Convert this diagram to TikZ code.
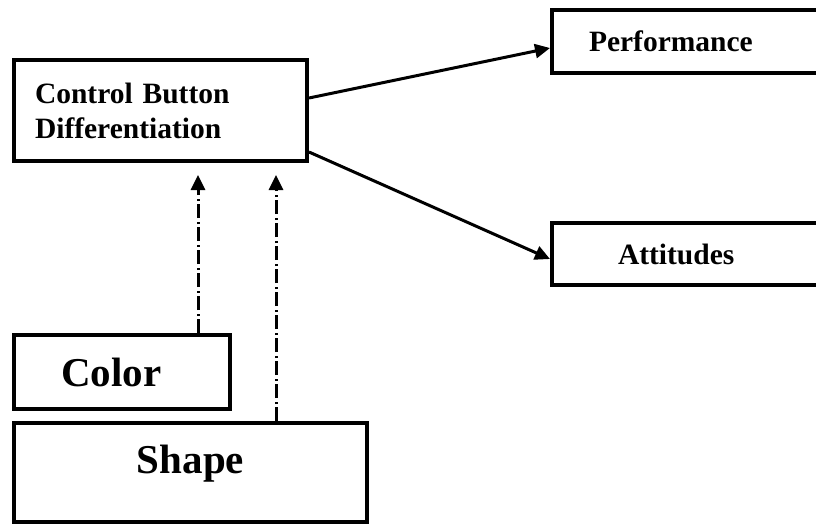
\documentclass[tikz,border=0pt]{standalone}
\usepackage{fontspec}
\setmainfont{Liberation Serif}
\usetikzlibrary{arrows.meta}
\begin{document}
\begin{tikzpicture}[x=1pt,y=-1pt,
	box/.style={draw,line width=4pt,rectangle,font=\bfseries\fontsize{29.5}{35}\selectfont},
	bigbox/.style={box,font=\bfseries\fontsize{41}{48}\selectfont},
	lead/.style={line width=3pt,-{Triangle[length=15pt,width=14pt]}},
	dep/.style={line width=3pt,dash pattern=on 14pt off 3pt on 2pt off 4pt,-{Triangle[length=15pt,width=14pt]},shorten >=12pt}]
	
	\clip (0,0) rectangle (816,525);
	\useasboundingbox (0,0) rectangle (816,525);
	
	\node[box,minimum width=293.5pt,minimum height=101pt,inner xsep=21.5pt,text width=250.5pt,align=left] (cbd) at (160.25,110.5) {Control Button\\Differentiation};
	\node[box,minimum width=278pt,minimum height=63pt,inner xsep=37pt,text width=204pt,align=left] (perf) at (691,41.5) {Performance};
	\node[box,minimum width=278pt,minimum height=62pt,inner xsep=66pt,text width=146pt,align=left] (att) at (691,254) {Attitudes};
	\node[bigbox,minimum width=216pt,minimum height=74pt,inner xsep=47pt,text width=122pt,align=left] (color) at (122,372) {Color};
	\node[bigbox,minimum width=353pt,inner ysep=0pt,text height=50pt,text depth=49pt] (shape) at (190.5,472.5) {Shape};
	
	\draw[lead] ([yshift=12.5pt]cbd.east) -- ([yshift=-6.5pt]perf.west);
	\draw[lead] ([yshift=-41.5pt]cbd.east) -- ([yshift=-5pt]att.west);
	
	\draw[dep] ([xshift=76pt]color.north) -- ([xshift=76pt]color.north |- cbd.south);
	\draw[dep] ([xshift=85.5pt]shape.north) -- ([xshift=85.5pt]shape.north |- cbd.south);
	
\end{tikzpicture}
\end{document}
